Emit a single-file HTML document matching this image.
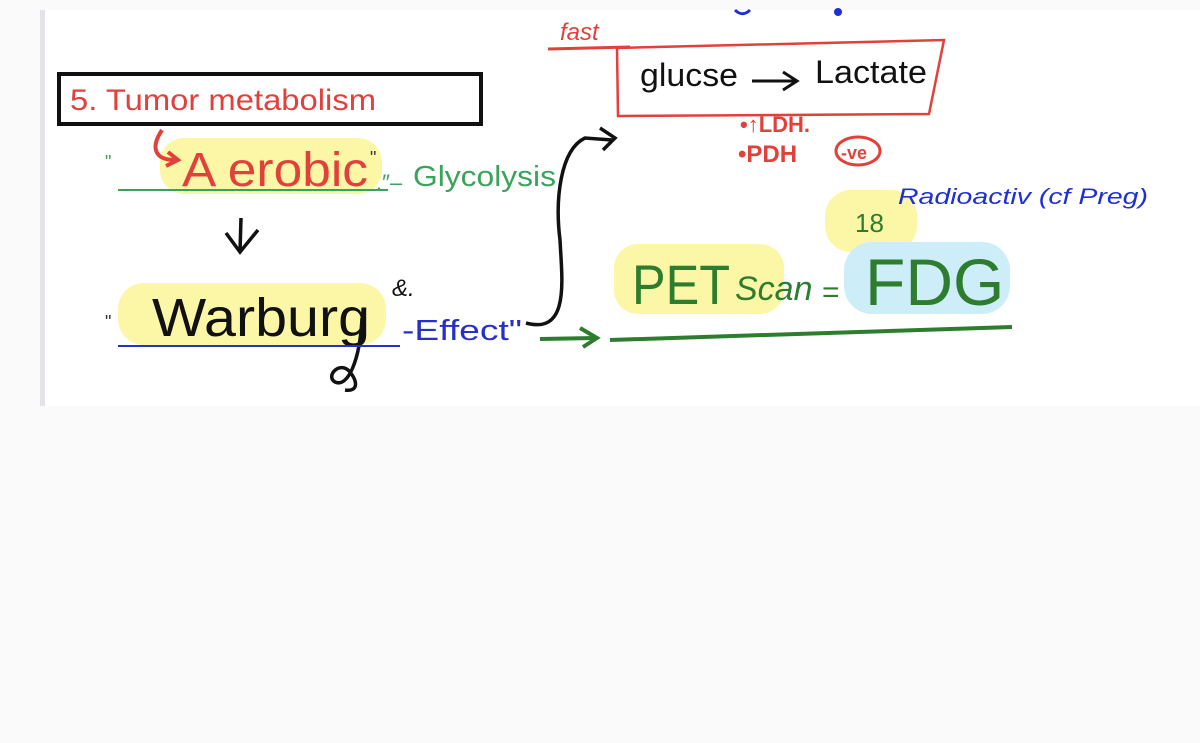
<!DOCTYPE html>
<html><head><meta charset="utf-8"><style>
html,body{margin:0;padding:0;background:#fafafa;width:1200px;height:743px;overflow:hidden}
svg{display:block}
</style></head><body>
<svg width="1200" height="743" viewBox="0 0 1200 743" xmlns="http://www.w3.org/2000/svg" font-family="Liberation Sans, sans-serif">
<rect x="0" y="0" width="1200" height="743" fill="#fafafa"/>
<rect x="40" y="10" width="1160" height="396" fill="#ffffff"/>
<rect x="40" y="10" width="5" height="396" fill="#e4e4e8"/>
<!-- highlights -->
<rect x="160" y="138" width="222" height="56" rx="24" fill="#fbf7a6"/>
<rect x="118" y="283" width="268" height="62" rx="26" fill="#fbf7a6"/>
<rect x="614" y="244" width="170" height="70" rx="24" fill="#fbf7a6"/>
<rect x="825" y="190" width="92" height="62" rx="26" fill="#fbf7a6"/>
<rect x="844" y="242" width="166" height="72" rx="28" fill="#cdeef8"/>
<!-- title box -->
<rect x="59" y="74" width="422" height="50" fill="none" stroke="#111" stroke-width="4"/>
<text x="70" y="110" font-size="30" fill="#e2403a" textLength="306" lengthAdjust="spacingAndGlyphs">5. Tumor metabolism</text>
<!-- red curve arrow -->
<path d="M162 130 C150 148 155 160 175 160" fill="none" stroke="#e2403a" stroke-width="4"/>
<path d="M168 152 L178 160 L166 166" fill="none" stroke="#e2403a" stroke-width="4"/>
<text x="105" y="168" font-size="18" fill="#3aa35a">"</text>
<text x="182" y="186" font-size="48" fill="#e2403a" textLength="186" lengthAdjust="spacingAndGlyphs">A erobic</text>
<text x="370" y="164" font-size="18" fill="#333">"</text>
<text x="376" y="190" font-size="22" fill="#3aa35a">.″–</text>
<text x="413" y="186" font-size="29" fill="#3aa35a" textLength="143" lengthAdjust="spacingAndGlyphs">Glycolysis</text>
<line x1="118" y1="190" x2="388" y2="190" stroke="#3aa35a" stroke-width="2"/>
<!-- down arrow -->
<path d="M241 218 L240 252" stroke="#111" stroke-width="3.5" fill="none"/>
<path d="M226 233 L240 252 L258 230" stroke="#111" stroke-width="3.5" fill="none"/>
<!-- Warburg -->
<text x="105" y="328" font-size="18" fill="#333">"</text>
<text x="152" y="336" font-size="54" fill="#111" textLength="218" lengthAdjust="spacingAndGlyphs">Warburg</text>
<path d="M362 318 C360 360 348 388 335 382 C325 376 340 360 350 372 C358 382 358 392 345 390" fill="none" stroke="#111" stroke-width="3.5"/>
<text x="392" y="296" font-size="24" fill="#111" font-style="italic">&amp;.</text>
<line x1="118" y1="346" x2="400" y2="346" stroke="#2630c8" stroke-width="2"/>
<text x="402" y="340" font-size="29" fill="#2630c8" textLength="120" lengthAdjust="spacingAndGlyphs">-Effect"</text>
<!-- black S curve -->
<path d="M526 323 C570 335 562 280 560 240 C555 200 560 150 585 138 L612 140" fill="none" stroke="#111" stroke-width="3.5"/>
<path d="M600 128 L615 138 L603 150" fill="none" stroke="#111" stroke-width="3.5"/>
<!-- green arrow -->
<path d="M540 339 L595 338" stroke="#2e7d2e" stroke-width="4" fill="none"/>
<path d="M580 328 L597 338 L583 347" stroke="#2e7d2e" stroke-width="4" fill="none"/>
<path d="M610 340 L1012 327" stroke="#2e7d2e" stroke-width="4" fill="none"/>
<!-- red box -->
<line x1="548" y1="49" x2="630" y2="47" stroke="#e2403a" stroke-width="3"/>
<text x="560" y="40" font-size="24" fill="#e2403a" font-style="italic">fast</text>
<path d="M617 48 L944 40 L929 114 L618 116 Z" fill="none" stroke="#e2403a" stroke-width="2.5"/>
<text x="640" y="86" font-size="32" fill="#111" textLength="98" lengthAdjust="spacingAndGlyphs">glucse</text>
<path d="M752 81 L795 81 M783 72 L797 81 L783 90" stroke="#111" stroke-width="3" fill="none"/>
<text x="815" y="83" font-size="32" fill="#111" textLength="112" lengthAdjust="spacingAndGlyphs">Lactate</text>
<text x="740" y="132" font-size="22" fill="#e2403a" font-weight="bold">•↑LDH.</text>
<text x="738" y="162" font-size="24" fill="#e2403a" font-weight="bold">•PDH</text>
<ellipse cx="858" cy="151" rx="22" ry="14" fill="none" stroke="#e2403a" stroke-width="3"/>
<text x="841" y="159" font-size="18" fill="#e2403a" font-weight="bold">-ve</text>
<!-- PET -->
<text x="632" y="304" font-size="56" fill="#2e7d2e" textLength="98" lengthAdjust="spacingAndGlyphs">PET</text>
<text x="735" y="300" font-size="34" fill="#2e7d2e" font-style="italic">Scan</text>
<text x="822" y="302" font-size="30" fill="#2e7d2e">=</text>
<text x="865" y="305" font-size="66" fill="#2e7d2e">FDG</text>
<text x="855" y="232" font-size="26" fill="#2e7d2e">18</text>
<text x="898" y="204" font-size="22" fill="#1f2fd6" font-style="italic" textLength="250" lengthAdjust="spacingAndGlyphs">Radioactiv (cf Preg)</text>
<path d="M735 10 C740 15 745 15 750 10" stroke="#1f2fd6" stroke-width="3" fill="none"/>
<circle cx="838" cy="12" r="4" fill="#1f2fd6"/>
</svg>
</body></html>
